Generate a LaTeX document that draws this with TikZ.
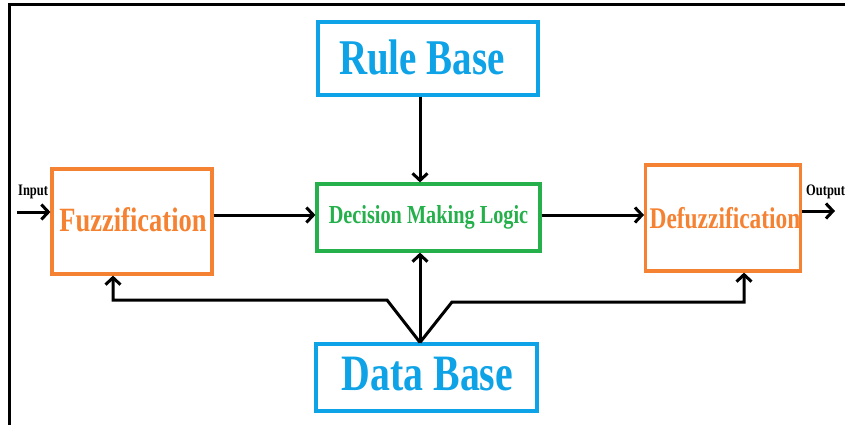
\documentclass[tikz,border=0pt]{standalone}
\usepackage{fontspec}
\usetikzlibrary{arrows.meta}
\newfontfamily\tnr[FakeStretch=0.78]{Liberation Serif}
\definecolor{cOrange}{HTML}{F58232}
\definecolor{cBlue}{HTML}{0EA2E6}
\definecolor{cGreen}{HTML}{25B04C}
\begin{document}
\begin{tikzpicture}[x=1pt,y=-1pt,
  box/.style={draw,line width=3.2pt,inner sep=0pt,align=center,text depth=0pt},
  bluebox/.style={box,draw=cBlue,text=cBlue},
  orangebox/.style={box,draw=cOrange,text=cOrange},
  greenbox/.style={box,draw=cGreen,text=cGreen},
  tip/.tip={Straight Barb[length=7pt,width=15pt,line width=3pt]},
  arr/.style={line width=3pt,draw=black,line join=miter,-tip},
  lbl/.style={inner sep=0pt,font=\tnr\bfseries\fontsize{16}{16}\selectfont}]
\useasboundingbox (0,0) rectangle (845,425);
% frame
\draw[line width=3pt] (9.5,425) -- (9.5,5) -- (845,5);
% boxes
\node[bluebox,minimum width=220pt,minimum height=73pt,text height=33pt,
      font=\tnr\bfseries\fontsize{50}{50}\selectfont] (rule) at (428,58.5) {Rule Base\hspace*{12pt}};
\node[greenbox,minimum width=223pt,minimum height=67pt,text height=11pt,
      font=\tnr\bfseries\fontsize{26}{26}\selectfont] (dml) at (428.5,217.5) {Decision Making Logic};
\node[bluebox,minimum width=221pt,minimum height=67pt,text height=25pt,
      font=\tnr\bfseries\fontsize{51}{51}\selectfont] (db) at (426.5,377.5) {\hspace*{2pt}Data Base};
\node[orangebox,minimum width=160pt,minimum height=105pt,text height=19pt,
      font=\tnr\bfseries\fontsize{34}{34}\selectfont] (fuzz) at (132,221.5) {\hspace*{2pt}Fuzzification};
\node[orangebox,minimum width=152pt,minimum height=106pt,text height=20pt,
      font=\tnr\bfseries\fontsize{30}{30}\selectfont] (defuzz) at (723,218) {\hspace*{4pt}Defuzzification};
% labels
\node[lbl,anchor=base west] (inlbl) at (18,195) {Input};
\node[lbl,anchor=base west] (outlbl) at (806,195) {Output};
% helper coordinates
\coordinate (yin) at (17,212);
\coordinate (ymid) at (0,215);
\coordinate (yout) at (835,211);
\coordinate (xm) at (420,0);
\coordinate (bl) at (387,300);
\coordinate (bl2) at (113,300);
\coordinate (br) at (452,302);
\coordinate (br2) at (744,302);
% connectors
\draw[arr] (yin) -- (fuzz.west |- yin);
\draw[arr] (fuzz.east |- ymid) -- (dml.west |- ymid);
\draw[arr] (dml.east |- ymid) -- (defuzz.west |- ymid);
\draw[arr] (defuzz.east |- yout) -- (yout);
\draw[arr] (rule.south -| xm) -- (dml.north -| xm);
\draw[arr] (db.north -| xm) -- (dml.south -| xm);
\draw[arr] (db.north -| xm) -- (bl) -- (bl2) -- (fuzz.south -| bl2);
\draw[arr] (db.north -| xm) -- (br) -- (br2) -- (defuzz.south -| br2);
\end{tikzpicture}
\end{document}
